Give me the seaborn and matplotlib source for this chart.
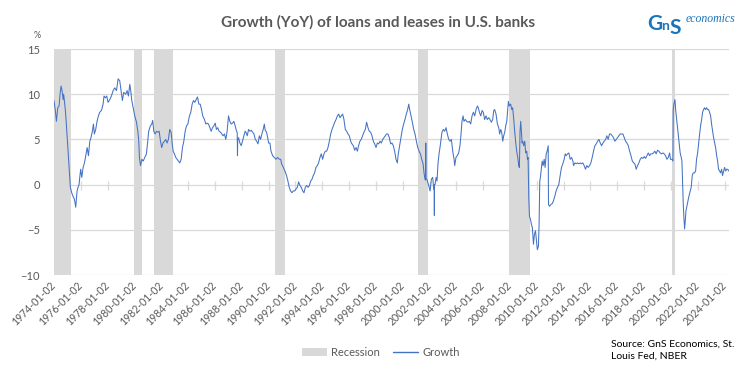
import numpy as np
import pandas as pd
import matplotlib
matplotlib.use("Agg")
import matplotlib.pyplot as plt
import seaborn as sns
from matplotlib.patches import Patch
from matplotlib.lines import Line2D

# ---------------- data (decimal years, YoY growth %) ----------------
t = [
    1974.00, 1974.10, 1974.18, 1974.28, 1974.38, 1974.45, 1974.53, 1974.60, 1974.68, 1974.72,
    1974.77, 1974.85, 1974.92, 1975.00, 1975.07, 1975.15, 1975.22, 1975.32, 1975.42, 1975.52,
    1975.62, 1975.72, 1975.79, 1975.87, 1975.92, 1975.99, 1976.07, 1976.17, 1976.27, 1976.37,
    1976.47, 1976.57, 1976.67, 1976.76, 1976.86, 1976.94, 1977.01, 1977.11, 1977.21, 1977.31,
    1977.41, 1977.54, 1977.66, 1977.73, 1977.83, 1977.93, 1978.03, 1978.16, 1978.28, 1978.41,
    1978.53, 1978.66, 1978.78, 1978.90, 1979.00, 1979.10, 1979.20, 1979.35, 1979.45, 1979.55,
    1979.65, 1979.72, 1979.80, 1979.90, 1980.02, 1980.15, 1980.25, 1980.32, 1980.37, 1980.45,
    1980.55, 1980.65, 1980.77, 1980.89,
    1980.99, 1981.06, 1981.19, 1981.29, 1981.36, 1981.44, 1981.54, 1981.64, 1981.74, 1981.84,
    1981.94, 1982.03, 1982.13, 1982.23, 1982.33, 1982.43, 1982.53, 1982.63, 1982.73, 1982.81,
    1982.88, 1982.98, 1983.08, 1983.18, 1983.28, 1983.38, 1983.48, 1983.58, 1983.68, 1983.78,
    1983.88, 1983.98, 1984.10, 1984.20, 1984.30, 1984.40, 1984.50, 1984.60, 1984.70, 1984.80,
    1984.90, 1985.00, 1985.09, 1985.22, 1985.32, 1985.42, 1985.52, 1985.62, 1985.72, 1985.82,
    1985.92, 1986.02, 1986.11, 1986.21, 1986.31, 1986.41, 1986.51, 1986.61, 1986.71, 1986.81,
    1986.91, 1987.01, 1987.11, 1987.21, 1987.31, 1987.41, 1987.51, 1987.61, 1987.66, 1987.68,
    1987.70, 1987.76, 1987.86, 1987.96, 1988.05, 1988.15, 1988.25,
    1988.31, 1988.41, 1988.51, 1988.61, 1988.71, 1988.81, 1988.91, 1989.01, 1989.11, 1989.21,
    1989.31, 1989.40, 1989.50, 1989.60, 1989.68, 1989.75, 1989.85, 1989.93, 1990.00, 1990.10,
    1990.18, 1990.30, 1990.42, 1990.55, 1990.67, 1990.80, 1990.90, 1990.97, 1991.10, 1991.22,
    1991.34, 1991.44, 1991.54, 1991.64, 1991.74, 1991.84, 1991.94, 1992.04, 1992.14, 1992.24,
    1992.34, 1992.44, 1992.54, 1992.64, 1992.74, 1992.84, 1992.94, 1993.04, 1993.14, 1993.24,
    1993.33, 1993.43, 1993.53, 1993.63, 1993.73, 1993.83, 1993.93, 1994.03, 1994.13, 1994.23,
    1994.33, 1994.43, 1994.53, 1994.63, 1994.73, 1994.83, 1994.93, 1995.03, 1995.13, 1995.23,
    1995.33, 1995.42, 1995.52,
    1995.62, 1995.72, 1995.82, 1995.92, 1996.02, 1996.12, 1996.22, 1996.32, 1996.42, 1996.52,
    1996.62, 1996.71, 1996.81, 1996.91, 1997.01, 1997.11, 1997.21, 1997.31, 1997.41, 1997.51,
    1997.61, 1997.71, 1997.81, 1997.91, 1998.01, 1998.11, 1998.21, 1998.31, 1998.41, 1998.51,
    1998.61, 1998.70, 1998.80, 1998.90, 1999.00, 1999.10, 1999.20, 1999.30, 1999.40, 1999.50,
    1999.60, 1999.67, 1999.77, 1999.87, 1999.97, 2000.07, 2000.17, 2000.27, 2000.37, 2000.45,
    2000.52, 2000.62, 2000.72, 2000.82, 2000.92, 2001.02, 2001.12, 2001.22, 2001.32, 2001.42,
    2001.52, 2001.59, 2001.66, 2001.70, 2001.72, 2001.74, 2001.80, 2001.84, 2001.94, 2002.04,
    2002.14, 2002.24, 2002.31, 2002.35, 2002.36, 2002.37, 2002.41, 2002.49, 2002.56, 2002.63,
    2002.71, 2002.78, 2002.88,
    2002.93, 2003.03, 2003.13, 2003.23, 2003.33, 2003.43, 2003.53, 2003.63, 2003.73, 2003.83,
    2003.88, 2003.97, 2004.07, 2004.17, 2004.27, 2004.35, 2004.42, 2004.50, 2004.57, 2004.67,
    2004.77, 2004.87, 2004.97, 2005.07, 2005.17, 2005.27, 2005.37, 2005.47, 2005.57, 2005.64,
    2005.72, 2005.82, 2005.92, 2006.01, 2006.11, 2006.21, 2006.31, 2006.41, 2006.51, 2006.61,
    2006.71, 2006.79, 2006.86, 2006.96, 2007.06, 2007.16, 2007.23, 2007.31, 2007.38, 2007.46,
    2007.53, 2007.61, 2007.68, 2007.76, 2007.83, 2007.88, 2007.95, 2008.05, 2008.13, 2008.20,
    2008.28, 2008.35, 2008.43, 2008.50, 2008.58, 2008.65, 2008.70, 2008.75, 2008.80, 2008.85,
    2008.90, 2008.95, 2009.02, 2009.10, 2009.17, 2009.25, 2009.30, 2009.35, 2009.40, 2009.45,
    2009.52, 2009.60, 2009.67, 2009.75, 2009.82, 2009.90, 2009.97, 2010.04, 2010.12, 2010.17,
    2010.22,
    2010.25, 2010.32, 2010.40, 2010.47, 2010.55, 2010.62, 2010.70, 2010.77, 2010.85, 2010.87,
    2010.95, 2011.05, 2011.15, 2011.24, 2011.34, 2011.44, 2011.54, 2011.64, 2011.74, 2011.84,
    2011.94, 2012.04, 2012.12, 2012.19, 2012.29, 2012.39, 2012.49, 2012.59, 2012.69, 2012.74,
    2012.84, 2012.94, 2013.04, 2013.14, 2013.24, 2013.33, 2013.43, 2013.53, 2013.63, 2013.73,
    2013.83, 2013.93, 2014.03, 2014.13, 2014.23, 2014.33, 2014.43, 2014.53, 2014.63, 2014.73,
    2014.83, 2014.93, 2015.03, 2015.13, 2015.22, 2015.32, 2015.42, 2015.52, 2015.62, 2015.72,
    2015.82, 2015.92, 2016.02, 2016.12, 2016.22, 2016.32, 2016.42, 2016.52, 2016.62, 2016.72,
    2016.82, 2016.92, 2017.02, 2017.12, 2017.22, 2017.31, 2017.41,
    2017.51, 2017.61, 2017.71, 2017.81, 2017.91, 2018.01, 2018.11, 2018.21, 2018.31, 2018.41,
    2018.50, 2018.60, 2018.70, 2018.80, 2018.90, 2019.00, 2019.10, 2019.20, 2019.30, 2019.40,
    2019.50, 2019.60, 2019.70, 2019.80, 2019.90, 2019.97, 2020.07, 2020.15, 2020.17, 2020.22,
    2020.30, 2020.35, 2020.40, 2020.47, 2020.54, 2020.62, 2020.69, 2020.77, 2020.82, 2020.87,
    2020.92, 2020.97, 2021.02, 2021.07, 2021.12, 2021.19, 2021.27, 2021.34, 2021.44, 2021.51,
    2021.59, 2021.66, 2021.76, 2021.84, 2021.91, 2021.99, 2022.06, 2022.14, 2022.21, 2022.29,
    2022.36, 2022.43, 2022.51, 2022.58, 2022.66, 2022.73, 2022.81, 2022.88, 2022.96, 2023.03,
    2023.11, 2023.18, 2023.26, 2023.33, 2023.41, 2023.48, 2023.55, 2023.63, 2023.70, 2023.78,
    2023.85, 2023.93, 2024.00, 2024.08, 2024.15, 2024.23, 2024.33,
]

growth = [
    9.3, 8.2, 7.0, 8.5, 8.7, 10.0, 10.9, 10.4, 9.4, 10.0,
    9.3, 8.2, 6.7, 4.8, 3.0, 1.1, -0.3, -0.9, -1.3, -1.6,
    -2.5, -0.7, -0.3, 0.0, 0.8, 1.7, 0.8, 1.9, 2.4, 3.2,
    4.1, 3.2, 4.8, 5.2, 5.9, 6.7, 5.6, 6.1, 7.0, 7.6,
    8.0, 8.2, 8.9, 9.8, 9.6, 9.8, 9.1, 9.4, 9.8, 10.4,
    10.7, 10.4, 11.7, 11.5, 10.4, 9.3, 10.2, 10.0, 10.4, 9.8,
    11.1, 10.4, 9.3, 8.5, 7.6, 6.9, 5.9, 4.8, 3.0, 2.1,
    2.8, 2.6, 3.0, 3.4,
    4.8, 5.9, 6.5, 6.7, 7.1, 5.9, 5.6, 5.9, 5.8, 5.9,
    4.8, 4.1, 4.6, 4.8, 5.0, 4.6, 5.0, 6.1, 5.8, 4.6,
    3.7, 3.4, 3.0, 2.8, 2.6, 2.4, 2.8, 4.1, 4.8, 5.9,
    6.5, 6.7, 7.6, 8.0, 8.9, 9.3, 9.1, 9.4, 9.7, 8.9,
    8.9, 8.3, 7.6, 7.2, 6.7, 6.8, 6.7, 6.3, 5.9, 6.3,
    6.5, 6.8, 6.1, 6.3, 5.9, 5.8, 5.6, 5.4, 5.6, 5.0,
    5.9, 7.6, 7.0, 6.7, 6.8, 7.0, 6.5, 5.9, 5.8, 3.2,
    5.0, 5.2, 4.6, 4.3, 4.8, 5.4, 5.9,
    5.8, 5.4, 6.1, 5.9, 6.0, 5.8, 5.6, 5.0, 4.8, 4.5,
    5.4, 5.0, 5.6, 6.1, 6.7, 6.0, 5.8, 5.2, 4.6, 4.6,
    3.7, 3.2, 3.0, 2.8, 3.0, 2.8, 2.8, 2.3, 1.9, 1.5,
    1.0, 0.4, -0.3, -0.7, -0.9, -0.7, -0.7, -0.5, -0.3, 0.3,
    -0.1, -0.3, -0.7, -0.9, -0.3, -0.1, -0.3, -0.1, 0.4, 0.6,
    1.0, 1.3, 1.9, 2.1, 2.4, 3.0, 3.4, 2.8, 3.4, 3.7,
    3.7, 4.1, 4.8, 5.6, 6.1, 6.5, 6.9, 7.2, 7.6, 7.8,
    7.4, 7.6, 7.8,
    7.2, 6.1, 5.9, 5.6, 5.4, 4.8, 4.5, 4.3, 3.8, 4.1,
    3.7, 4.3, 4.8, 5.0, 5.4, 5.8, 6.1, 6.9, 6.3, 5.9,
    5.8, 5.4, 4.8, 4.5, 4.1, 4.6, 4.5, 4.8, 4.6, 5.0,
    5.2, 5.4, 5.6, 5.6, 5.2, 4.5, 4.6, 4.3, 3.7, 2.8,
    2.4, 3.4, 4.3, 5.2, 6.1, 6.7, 7.2, 7.8, 8.3, 8.9,
    8.3, 7.6, 6.9, 6.1, 5.6, 4.8, 4.1, 3.7, 3.4, 2.8,
    2.3, 1.3, 0.6, 0.5, 4.6, 0.6, 0.6, 0.4, -0.1, -0.7,
    0.6, 0.8, -0.5, -0.4, -3.4, 0.0, 0.0, 0.8, 0.4, 2.3,
    3.4, 4.1, 5.2,
    5.8, 6.1, 5.9, 6.3, 5.6, 5.0, 4.8, 5.0, 3.7, 2.8,
    2.1, 3.0, 3.2, 3.5, 4.3, 5.6, 7.0, 7.6, 7.0, 7.2,
    7.0, 6.9, 7.0, 6.7, 7.6, 8.0, 7.6, 8.3, 8.7, 8.5,
    8.0, 7.6, 8.2, 8.0, 7.2, 7.6, 7.2, 7.4, 7.2, 6.9,
    7.2, 8.2, 8.3, 7.8, 6.7, 6.3, 5.6, 6.1, 5.8, 4.8,
    5.4, 5.8, 6.5, 7.0, 8.3, 9.2, 8.7, 8.9, 8.3, 8.5,
    7.2, 5.9, 4.6, 3.7, 3.0, 2.1, 1.9, 5.9, 7.0, 5.9,
    4.6, 4.8, 4.3, 4.8, 3.5, 3.7, 2.8, 3.0, -1.4, -3.5,
    -3.8, -4.4, -4.8, -6.6, -5.5, -5.1, -6.2, -7.2, -6.8, -4.4,
    0.4,
    0.6, 1.5, 2.6, 2.1, 2.8, 1.9, 3.4, 3.7, 4.3, -2.2,
    -2.4, -2.2, -2.1, -1.8, -1.3, -0.7, -0.3, 0.0, 1.0, 1.9,
    2.3, 2.8, 3.4, 3.2, 3.4, 3.5, 2.8, 3.0, 2.6, 2.1,
    2.4, 2.3, 2.4, 2.3, 2.4, 2.3, 2.4, 2.1, 1.7, 2.1,
    1.9, 2.1, 2.4, 3.0, 3.7, 4.3, 4.5, 4.8, 5.0, 4.6,
    4.3, 4.6, 4.8, 5.0, 5.4, 5.0, 5.6, 5.6, 5.4, 5.2,
    4.8, 5.0, 5.2, 5.4, 5.6, 5.6, 5.6, 5.2, 4.8, 4.6,
    4.3, 3.7, 3.2, 2.6, 2.4, 2.3, 1.7,
    2.1, 2.4, 2.8, 3.0, 2.9, 3.1, 2.9, 3.2, 3.5, 3.2,
    3.4, 3.4, 3.5, 3.7, 3.4, 3.8, 3.7, 3.5, 3.4, 3.5,
    3.4, 3.2, 2.8, 3.0, 3.5, 2.8, 2.8, 2.6, 8.3, 8.9,
    9.4, 8.3, 7.6, 6.7, 5.6, 4.5, 3.5, 3.0, 2.6, 0.0,
    -2.2, -3.7, -4.9, -4.0, -2.9, -2.4, -1.8, -1.3, -0.7, -0.3,
    1.0, 1.3, 1.3, 1.5, 2.8, 3.5, 4.5, 5.6, 6.5, 7.2,
    8.0, 8.3, 8.5, 8.3, 8.5, 8.3, 8.3, 8.0, 7.6, 6.7,
    5.9, 5.2, 4.6, 4.1, 3.2, 2.6, 1.7, 1.5, 1.3, 1.7,
    1.0, 1.5, 1.9, 1.5, 1.7, 1.7, 1.5,
]

rec_start = ["1973-11-01", "1980-01-01", "1981-07-01", "1990-07-01",
             "2001-03-01", "2007-12-01", "2020-02-01"]
rec_end = ["1975-03-31", "1980-07-31", "1982-11-30", "1991-03-31",
           "2001-11-30", "2009-06-30", "2020-04-30"]

tick_years = list(range(1974, 2025, 2))
tick_labels = [f"{y}-01-02" for y in tick_years]

# ---------------- build frame ----------------
base = pd.Timestamp("1974-01-02")
dates = base + pd.to_timedelta((np.array(t) - 1974.0) * 365.25, unit="D")
df = pd.DataFrame({"date": dates, "growth": growth})

sns.set_theme(style="white")
plt.rcParams["font.family"] = ["Lato", "DejaVu Sans"]

GRAY_TXT = "#595959"
GRID = "#D9D9D9"
BLUE = "#4472C4"

fig = plt.figure(figsize=(7.54, 3.73), dpi=100)
ax = fig.add_axes([54 / 754, 98 / 373, 675 / 754, 226 / 373])

for s, e in zip(rec_start, rec_end):
    ax.axvspan(pd.Timestamp(s), pd.Timestamp(e), color=GRID, lw=0, zorder=0)

sns.lineplot(data=df, x="date", y="growth", ax=ax, color=BLUE, lw=0.75,
             zorder=3, legend=False)

ax.set_ylim(-10, 15)
ax.set_yticks([-10, -5, 0, 5, 10, 15])
ax.set_xlim(base, dates[-1])
ax.grid(axis="y", color=GRID, lw=0.9, zorder=1)
ax.grid(axis="x", visible=False)
ax.set_axisbelow(True)
for sp in ax.spines.values():
    sp.set_visible(False)
ax.set_xlabel("")
ax.set_ylabel("")

ticks = pd.to_datetime(tick_labels)
ax.set_xticks(ticks)
ax.set_xticklabels(tick_labels, rotation=45, ha="right", va="center",
                   rotation_mode="anchor")
ax.tick_params(axis="x", length=0, pad=6, labelsize=7.6, labelcolor=GRAY_TXT)
ax.tick_params(axis="y", length=0, pad=10, labelsize=8, labelcolor=GRAY_TXT)
ax.vlines(ticks, -0.6, 0.35, color=GRID, lw=0.9, zorder=2)

# title, unit, logo, legend, source
fig.text(378 / 754, 1 - 22 / 373, "Growth (YoY) of loans and leases in U.S. banks",
         ha="center", va="center", fontsize=11, fontweight="bold", color=GRAY_TXT)
fig.text(37 / 754, 1 - 36 / 373, "%", ha="center", va="center", fontsize=6.5,
         color=GRAY_TXT)

LOGO = "#1B75BB"
fig.text(647 / 754, 1 - 30 / 373, "G", fontsize=15, color=LOGO, ha="left",
         va="baseline", fontweight="bold")
fig.text(661.5 / 754, 1 - 30 / 373, "n", fontsize=10, color=LOGO, ha="left",
         va="baseline", fontweight="bold")
fig.text(669.5 / 754, 1 - 34 / 373, "S", fontsize=15, color=LOGO, ha="left",
         va="baseline", fontweight="bold")
fig.text(686 / 754, 1 - 22 / 373, "economics", fontsize=8.5, color=LOGO,
         ha="left", va="baseline", family=["Liberation Serif", "DejaVu Serif"],
         style="italic")

handles = [Patch(facecolor=GRID, edgecolor="none", label="Recession"),
           Line2D([], [], color=BLUE, lw=1.0, label="Growth")]
fig.legend(handles=handles, loc="center", bbox_to_anchor=(381 / 754, 21 / 373),
           ncol=2, frameon=False, fontsize=8, labelcolor=GRAY_TXT,
           handlelength=2.2, handleheight=0.7, columnspacing=1.2, handletextpad=0.4)

fig.text(611 / 754, 1 - 340 / 373, "Source: GnS Economics, St.\nLouis Fed, NBER",
         ha="left", va="top", fontsize=7.5, color="#000000", linespacing=1.45)

fig.savefig("out.png", dpi=100)
